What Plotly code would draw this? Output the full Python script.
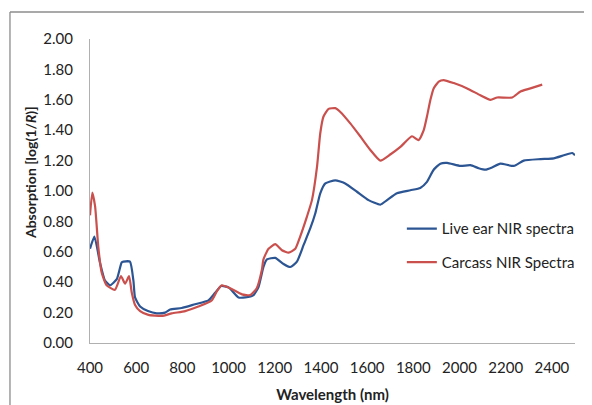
import plotly.graph_objects as go

live_wl = [400, 419, 443, 465, 487, 516, 537, 545, 573, 588, 595, 617, 651, 689, 725, 747, 797, 855, 913,
           942, 968, 1000, 1043, 1072, 1108, 1130, 1151, 1166, 1202, 1238, 1267, 1296, 1325, 1354, 1375,
           1397, 1419, 1462, 1505, 1556, 1606, 1657, 1686, 1729, 1787, 1830, 1859, 1888, 1917, 1946, 2004,
           2047, 2083, 2112, 2141, 2177, 2235, 2278, 2351, 2408, 2452, 2488, 2500]
live_abs = [0.62, 0.70, 0.53, 0.41, 0.38, 0.42, 0.53, 0.535, 0.535, 0.41, 0.30, 0.24, 0.21, 0.195, 0.20, 0.22,
            0.23, 0.255, 0.28, 0.33, 0.375, 0.366, 0.30, 0.30, 0.315, 0.37, 0.50, 0.55, 0.56, 0.52, 0.50,
            0.535, 0.645, 0.755, 0.85, 0.985, 1.05, 1.07, 1.05, 0.995, 0.94, 0.91, 0.94, 0.985, 1.005, 1.02,
            1.06, 1.14, 1.18, 1.185, 1.165, 1.17, 1.15, 1.14, 1.155, 1.18, 1.165, 1.20, 1.21, 1.215, 1.235,
            1.25, 1.235]

carcass_wl = [400, 410, 422, 436, 451, 472, 508, 534, 552, 569, 581, 595, 617, 653, 711, 754, 812, 869, 927,
              949, 971, 1007, 1058, 1094, 1122, 1144, 1151, 1173, 1202, 1231, 1260, 1289, 1310, 1339, 1361,
              1383, 1397, 1411, 1433, 1462, 1484, 1527, 1570, 1614, 1657, 1700, 1744, 1794, 1823, 1845, 1859,
              1874, 1888, 1910, 1931, 1975, 2033, 2090, 2134, 2163, 2228, 2264, 2307, 2358]
carcass_abs = [0.84, 0.99, 0.90, 0.63, 0.46, 0.38, 0.35, 0.44, 0.39, 0.44, 0.33, 0.25, 0.21, 0.185, 0.178,
               0.195, 0.21, 0.24, 0.28, 0.34, 0.38, 0.36, 0.32, 0.315, 0.36, 0.48, 0.55, 0.62, 0.65, 0.61,
               0.594, 0.62, 0.70, 0.83, 0.94, 1.16, 1.38, 1.49, 1.54, 1.545, 1.52, 1.445, 1.36, 1.27, 1.20,
               1.24, 1.29, 1.36, 1.335, 1.40, 1.49, 1.60, 1.675, 1.72, 1.73, 1.71, 1.675, 1.63, 1.60, 1.615,
               1.615, 1.655, 1.675, 1.70]

x_ticks = [400, 600, 800, 1000, 1200, 1400, 1600, 1800, 2000, 2200, 2400]
y_ticks = [0.0, 0.2, 0.4, 0.6, 0.8, 1.0, 1.2, 1.4, 1.6, 1.8, 2.0]

FONT = "Lato, 'Open Sans', sans-serif"

fig = go.Figure()
fig.add_trace(go.Scatter(x=live_wl, y=live_abs, mode="lines", name="Live ear NIR spectra",
                         legendgroup="a",
                         line=dict(color="#2C5593", width=2.2, shape="spline", smoothing=0.5)))
fig.add_trace(go.Scatter(x=carcass_wl, y=carcass_abs, mode="lines", name="Carcass NIR Spectra",
                         legendgroup="b",
                         line=dict(color="#C9504D", width=2.2, shape="spline", smoothing=0.5)))

fig.update_layout(
    width=592, height=405,
    margin=dict(l=82, r=25, t=31, b=70),
    paper_bgcolor="white", plot_bgcolor="white",
    font=dict(family=FONT, size=15, color="#222"),
    showlegend=True,
    legend=dict(x=0.643, y=0.43, xanchor="left", yanchor="top", bgcolor="rgba(0,0,0,0)",
                font=dict(size=15), tracegroupgap=11, itemwidth=30),
    xaxis=dict(range=[400, 2500], tickvals=x_ticks, ticktext=[str(v) for v in x_ticks],
               showgrid=False, zeroline=False, showline=True, linecolor="#B0B0B0", linewidth=1.3,
               ticks="", ticklabelstandoff=11,
               title=dict(text="<b>Wavelength (nm)</b>", font=dict(size=15), standoff=14)),
    yaxis=dict(range=[0, 2.0], tickvals=y_ticks, ticktext=["%.2f" % v for v in y_ticks],
               showgrid=False, zeroline=False, showline=True, linecolor="#B0B0B0", linewidth=1.3,
               ticks="", ticklabelstandoff=13),
    annotations=[
        dict(text="<b>Absorption [log(1/<i>R</i>)]</b>", xref="paper", yref="paper",
             x=-0.1237, y=0.559, xanchor="center", yanchor="middle", textangle=-90,
             showarrow=False, font=dict(size=14)),
    ],
    shapes=[
        dict(type="line", xref="paper", yref="paper", x0=-0.165, x1=-0.165, y0=-0.25, y1=1.0888,
             line=dict(color="#8C8C8C", width=1.3)),
        dict(type="line", xref="paper", yref="paper", x0=-0.165, x1=1.1, y0=1.0888, y1=1.0888,
             line=dict(color="#8C8C8C", width=1.3)),
    ],
)

fig.write_html("out.html")
